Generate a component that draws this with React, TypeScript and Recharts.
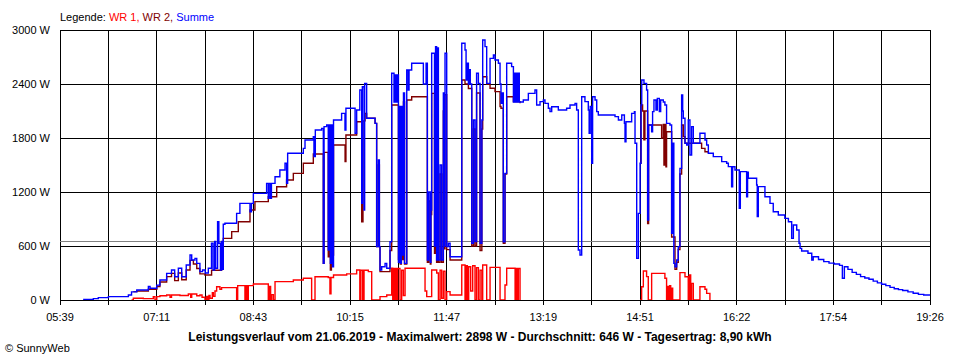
import React from 'react';
import { LineChart, Line, XAxis, YAxis, CartesianGrid, ReferenceLine } from 'recharts';

const FONT = '"Liberation Sans", Arial, Helvetica, sans-serif';

// time axis in minutes of the day (05:39 .. 19:26)
const xStart = 339;
const xEnd = 1166;
const xTickLabels = ['05:39', '', '07:11', '', '08:43', '', '10:15', '', '11:47', '', '13:19', '', '14:51', '', '16:22', '', '17:54', '', '19:26'];
const yTicks = [0, 600, 1200, 1800, 2400, 3000];
const averageW = 646;

// WR 1 [minute, W]
const wr1Points: [number, number | null][] = [
  [407, 0], [408.7, 20], [418.2, 15], [427.7, 37], [429.3, 0], [431, 37], [434, 48], [440.4, 56], [443.6, 30], [445, 56],
  [453, 50], [461, 67], [463.2, 30], [464.2, 67], [469, 48], [472, 56], [474, 30], [476.8, 0], [478.4, 40], [479.3, 0],
  [480.6, 50], [481.6, 20], [483.8, 80], [484.7, 40], [486.3, 100], [487.9, 148], [491, 120], [492.6, 137], [506.9, 0], [507.9, 160],
  [514.8, 0], [515.8, 160], [517, 0], [518, 160], [522.8, 178], [537, 0], [538, 150], [539.2, 0], [540.2, 60], [541.8, 0],
  [543.4, 204], [560.8, 222], [570.3, 241], [578.2, 0], [581.4, 259], [594, 250], [595.6, 70], [596.6, 250], [599, 278], [611.5, 290],
  [621, 333], [624, 0], [625, 330], [626.7, 0], [628, 330], [632.1, 315], [635.3, 0], [643.2, 37], [649.6, 56], [654.3, 352],
  [655.3, 0], [656.2, 350], [657.2, 0], [658.1, 350], [659, 0], [660, 350], [662.2, 0], [663.8, 330], [665.4, 50], [667, 352],
  [686, 100], [687.6, 37], [692.3, 333], [697.1, 300], [698.7, 0], [700.3, 330], [701.8, 20], [703.4, 320], [705, 0], [706.6, 93],
  [709.8, 55], [720.9, 389], [724, 0], [725, 380], [726.2, 0], [727.5, 370], [729.4, 100], [731.3, 380], [733.5, 0], [735, 360],
  [736.7, 0], [738.3, 330], [740, 0], [740.8, 389], [744.6, 0], [747.8, 363], [757.3, 0], [762, 167], [763.6, 352], [771.6, 0],
  [772.5, 350], [773.4, 0], [774.7, 350], [776.3, 0], [800, null],
  [890.3, 0], [891.9, 148], [893.5, 322], [896.6, 260], [898.2, 0], [901.4, 296], [914, 241], [915.6, 0], [916.6, 150], [917.5, 0],
  [918.5, 160], [919.5, 0], [920.4, 130], [921.4, 0], [928.3, 304], [933.1, 259], [936.2, 0], [937.2, 278], [938.5, 0], [939.4, 185],
  [941, 0], [947.3, 148], [952.1, 120], [953.7, 74], [956.8, 0],
];

// WR 2 [minute, W] (where it differs from the sum)
const wr2Points: [number, number | null][] = [
  [408.7, 93], [412, 100], [423, 120], [431, 150], [434, 200], [440.4, 260], [445, 296], [448, 215], [451.5, 300], [454.7, 225],
  [459, 333], [462.6, 440], [465.8, 400], [469, 350], [472, 290], [476.8, 278], [483.1, 330], [492.6, 352], [494.2, 685], [502.2, 760],
  [508.5, 870], [519.6, 1000], [524.3, 1093], [537, 1148], [545, 1259], [554.4, 1333], [560.8, 1407], [570.3, 1519], [579.8, 1622], [589.3, 407],
  [590, 1640], [594, 480], [595, 1650], [596, 333], [597, 1660], [598, 500], [599, 1722], [610, 1537], [610.8, 1833], [621, 1981],
  [625.8, 870], [627, 1990], [629, 2074], [630.5, 2019], [638.5, 1963], [640, 593], [641.6, 1500], [642.6, 593], [643.2, 315], [652.7, 550],
  [654.3, 2167], [660.7, 450], [661.6, 2100], [662.5, 400], [663.5, 2100], [664.5, 450], [665.5, 2200], [666.5, 400], [668.6, 2222], [673.3, 2259],
  [688.2, 420], [689.5, 1100], [691, 400], [691.6, 950], [692.3, 2296], [695, 520], [696, 2000], [697, 420], [698, 1800], [698.7, 420],
  [700.3, 1400], [701.8, 420], [703.4, 2100], [704.4, 570], [705, 2280], [706.6, 560], [709.8, 444], [720.9, 2444], [724, 2400], [727.2, 2350],
  [730.4, 600], [732, 1900], [733.5, 600], [735, 2300], [738.3, 550], [740, 1900], [740.8, 2481], [744.6, 2400], [747.8, 2352], [752.5, 2315],
  [757.3, 2150], [758.2, 2130], [760.4, 630], [762, 1400], [763.6, 2259], [770, 2204], [776.3, 2185], [800, null],
  [890.3, 1519], [891.3, 2167], [892.8, 2100], [894, 1780], [895, 2100], [897.6, 850], [898.5, 1944], [910.9, 1800], [912.5, 1950], [913.1, 1500],
  [913.8, 1950], [915, 1480], [915.6, 1870], [920.4, 700], [923.6, 340], [925.2, 420], [926.7, 560], [928.3, 1400], [929.9, 1944], [931.5, 1815],
  [933.1, 1741], [948.9, 1685], [952.1, 1648], [955.3, 1630],
];

// Summe [minute, W]
const summePoints: [number, number][] = [
  [361, 7], [370.7, 15], [375.4, 26], [385, 37], [404, 56], [407, 90], [412, 111], [423, 150], [424.6, 130], [431, 165],
  [434, 222], [440.4, 296], [445, 333], [448, 259], [451.5, 352], [454.7, 259], [459, 389], [462.6, 500], [464.2, 444], [467.3, 463],
  [469, 407], [472, 315], [474.5, 333], [477, 300], [480, 352], [483, 630], [484.5, 333], [486, 650], [487, 352], [488.8, 870],
  [490, 630], [491.5, 333], [492.5, 650], [493.5, 340], [494.2, 841], [495.8, 852], [506.9, 963], [510, 1074], [519.6, 981], [521, 1074],
  [522.8, 1185], [535.4, 1296], [537, 1130], [537.6, 1296], [539, 1130], [540, 1296], [543.4, 1370], [548, 1444], [552.9, 1519], [554.4, 1296],
  [555.4, 1630], [570.3, 1685], [571.9, 1778], [579.8, 1815], [580.4, 1593], [581.7, 1889], [587.7, 1907], [589.3, 407], [590, 1926], [592.5, 1944],
  [594, 556], [595, 1944], [596, 407], [597, 1944], [598, 370], [599, 2000], [606.7, 2074], [609.9, 1889], [610.8, 2130], [619.5, 1852],
  [621, 2111], [624, 2333], [625.8, 1075], [626.4, 2370], [628, 1000], [628.6, 2407], [630.5, 2019], [638.5, 1963], [640, 593], [641.6, 1556],
  [642.6, 593], [643.2, 333], [644.8, 370], [648, 407], [649.6, 352], [652.7, 648], [654.3, 2519], [656.5, 2200], [657.5, 2500], [658.5, 2200],
  [659.5, 2500], [660.7, 420], [661.6, 2150], [662.5, 407], [663.5, 2150], [664.5, 500], [665.5, 2300], [666.5, 407], [668.6, 2556], [670, 2333],
  [670.8, 2556], [673.3, 2630], [684.4, 2400], [687, 2630], [688.2, 444], [689.5, 1200], [691, 420], [691.6, 1000], [692.3, 2741], [695, 600],
  [696, 2815], [697, 444], [698, 2800], [698.7, 444], [700.3, 1500], [701.8, 444], [703.4, 2300], [704.4, 600], [705, 2741], [706.6, 593],
  [708.2, 630], [709.8, 481], [720.9, 2852], [724, 2778], [725, 2444], [726, 2630], [727.2, 2400], [728, 2560], [729, 2400], [730.4, 630],
  [732, 2000], [733.5, 650], [735, 2519], [736.7, 2407], [738.3, 630], [740, 2000], [740.8, 2889], [743, 2815], [744.6, 2407], [747.8, 2685],
  [751, 2722], [752.5, 2667], [755.7, 2630], [757.3, 2400], [758.2, 2185], [759.5, 2300], [760.4, 648], [762, 1407], [763.6, 2630], [768.3, 2593],
  [770, 2200], [771, 2520], [772, 2200], [772.8, 2520], [773.7, 2200], [774.7, 2519], [775.6, 2200], [779.4, 2222], [784.2, 2296], [790.5, 2333],
  [792.1, 2167], [795.3, 2204], [798.5, 2222], [800, 2185], [803.2, 2130], [804.8, 2093], [806.4, 2148], [812.7, 2111], [820.6, 2130], [823.8, 2167],
  [828.6, 2185], [830.1, 2111], [831.7, 555], [833.3, 500], [834.9, 2259], [838, 2204], [841.2, 2111], [842, 1852], [843, 2150], [844.4, 1519],
  [845.3, 2259], [847.6, 2222], [849.2, 2093], [850.7, 2056], [866.6, 2037], [869.8, 2000], [873, 2056], [875.5, 1963], [876.1, 1759], [877, 1981],
  [882.4, 2074], [885, 2093], [885.6, 1741], [887.2, 463], [888.8, 963], [890.4, 1519], [891.3, 2167], [892, 2444], [894.1, 2407], [896.6, 2333],
  [897.6, 889], [898.5, 1944], [901.4, 1870], [902.3, 2093], [903.6, 2222], [905.5, 2111], [906.8, 2240], [908.7, 2093], [910, 2222], [912.5, 2200],
  [914, 2167], [915.6, 1963], [918.8, 1944], [920.4, 741], [921.4, 1741], [922.5, 407], [923.6, 370], [925.2, 444], [926.7, 593], [928.3, 1463],
  [929.9, 2278], [930.9, 2100], [931.5, 2019], [933.1, 1741], [934.7, 1722], [936.2, 2000], [937.8, 1611], [939.4, 1926], [941, 1741], [947.3, 1852],
  [952.1, 1778], [953.7, 1722], [955.3, 1630], [960, 1593], [968, 1537], [972.7, 1519], [974.3, 1482], [977.4, 1259], [978.4, 1480], [980.6, 1444],
  [984.7, 1019], [985.7, 1426], [991.7, 1148], [992.6, 1420], [993.3, 1352], [1001.2, 1278], [1001.8, 926], [1002.8, 1260], [1009.1, 1148], [1013.9, 1074],
  [1017, 981], [1021.8, 944], [1028, 907], [1031.4, 870], [1034.5, 685], [1036.1, 833], [1039.3, 778], [1041.5, 630], [1042.5, 574], [1044, 545],
  [1050, 520], [1053.6, 444], [1055, 480], [1060, 450], [1065, 426], [1070, 410], [1075, 400], [1080, 385], [1082.7, 241], [1084.6, 370],
  [1088, 340], [1092, 307], [1096, 285], [1100, 260], [1104, 245], [1108, 230], [1112, 210], [1116, 190], [1120, 175], [1124, 160],
  [1128, 140], [1132, 125], [1136, 115], [1140, 105], [1145, 90], [1150, 75], [1155, 63], [1160, 55], [1166, 52],
];

const toData = (pts: [number, number | null][]) => pts.map(([t, w]) => ({ t, w }));
const wr1Data = toData(wr1Points);
const wr2Data = toData(wr2Points);
const summeData = toData(summePoints);

const xTicks = xTickLabels.map((_, i) => xStart + (i * (xEnd - xStart)) / (xTickLabels.length - 1));
const xLabelFor = (v: number) => {
  const i = xTicks.findIndex((x) => Math.abs(x - v) < 0.01);
  return i >= 0 ? xTickLabels[i] : '';
};

const tickStyle = { fill: '#000', fontSize: 11, fontFamily: FONT };
const lineProps = {
  type: 'stepAfter' as const,
  dataKey: 'w',
  strokeWidth: 1.4,
  dot: false,
  activeDot: false,
  isAnimationActive: false,
  shapeRendering: 'geometricPrecision',
};

export default function App() {
  return (
    <div style={{ position: 'absolute', left: 0, top: 0, width: 960, height: 360, background: '#fff' }}>
      <LineChart
        width={960}
        height={360}
        margin={{ top: 30, right: 30, bottom: 30, left: 0 }}
        style={{ shapeRendering: 'crispEdges' }}
      >
        <CartesianGrid stroke="#000" strokeWidth={1} />
        <XAxis
          type="number"
          dataKey="t"
          domain={[xStart, xEnd]}
          ticks={xTicks}
          interval={0}
          allowDataOverflow
          tickFormatter={xLabelFor}
          height={30}
          tickSize={5}
          tickMargin={8}
          stroke="#000"
          tick={tickStyle}
        />
        <YAxis
          type="number"
          domain={[0, 3000]}
          ticks={yTicks}
          width={60}
          axisLine={false}
          tickLine={false}
          tickSize={0}
          tickMargin={10}
          tickFormatter={(v: number) => `${v} W`}
          tick={tickStyle}
        />
        <ReferenceLine y={averageW} stroke="#808080" strokeWidth={1} />
        <Line {...lineProps} data={wr1Data} stroke="#ff0000" />
        <Line {...lineProps} data={wr2Data} stroke="#800000" />
        <Line {...lineProps} data={summeData} stroke="#0000ff" />
      </LineChart>
      <svg
        width={960}
        height={360}
        style={{ position: 'absolute', left: 0, top: 0, pointerEvents: 'none' }}
        fontFamily={FONT}
      >
        <text x={60} y={20.5} fontSize={11} style={{ whiteSpace: 'pre' }}>
          <tspan fill="#000">Legende: </tspan>
          <tspan fill="#ff0000">WR 1, </tspan>
          <tspan fill="#800000">WR 2, </tspan>
          <tspan fill="#0000ff">Summe</tspan>
        </text>
        <text x={480} y={341} fontSize={12} fontWeight="bold" textAnchor="middle" fill="#000">
          Leistungsverlauf vom 21.06.2019 - Maximalwert: 2898 W - Durchschnitt: 646 W - Tagesertrag: 8,90 kWh
        </text>
        <text x={5} y={351.5} fontSize={11} fill="#000">© SunnyWeb</text>
      </svg>
    </div>
  );
}
